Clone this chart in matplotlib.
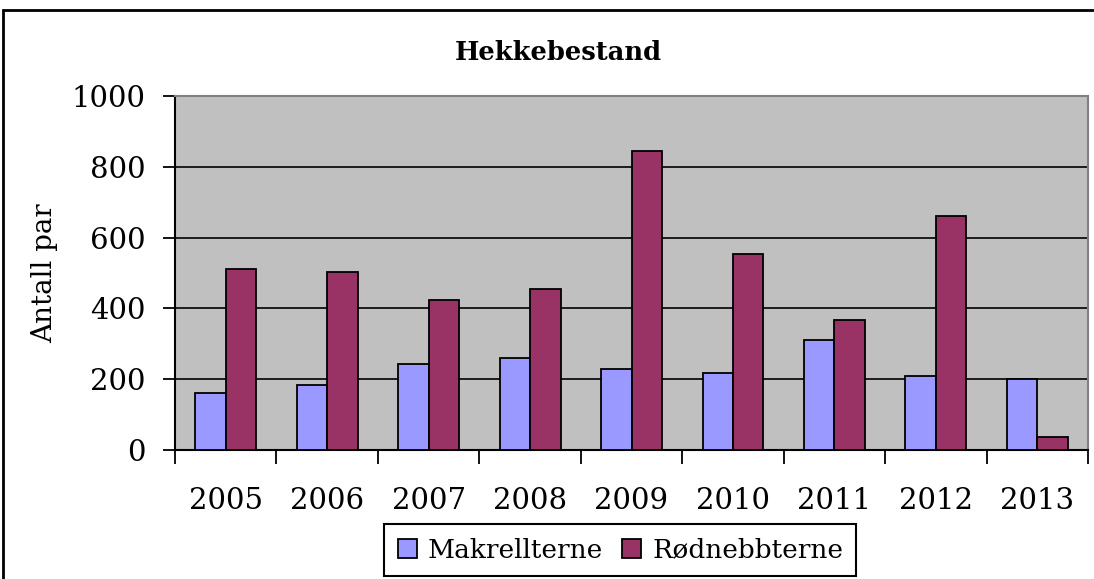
import matplotlib
matplotlib.use("Agg")
import matplotlib.pyplot as plt
import numpy as np
from matplotlib.patches import Rectangle

years = ["2005", "2006", "2007", "2008", "2009", "2010", "2011", "2012", "2013"]
makrellterne = [162, 185, 242, 259, 230, 218, 310, 208, 202]
rodnebbterne = [512, 502, 423, 456, 846, 553, 366, 660, 38]

plt.rcParams['font.family'] = ['DejaVu Serif']

fig = plt.figure(figsize=(10.94, 5.79), dpi=100)
ax = fig.add_axes([0.160, 0.2228, 0.8345, 0.6112])

x = np.arange(len(years))
w = 0.3
ax.bar(x - w / 2, makrellterne, w, color="#9999FF", edgecolor="black", linewidth=1.3,
       label="Makrellterne", zorder=3)
ax.bar(x + w / 2, rodnebbterne, w, color="#993366", edgecolor="black", linewidth=1.3,
       label="Rødnebbterne", zorder=3)

ax.set_facecolor("#C0C0C0")
ax.set_xlim(-0.5, len(years) - 0.5)
ax.set_ylim(0, 1000)
ax.set_yticks(range(0, 1001, 200))
ax.yaxis.grid(True, color="black", linewidth=1.2, zorder=1)
ax.set_axisbelow(True)

# category ticks sit between the groups, labels in the middle
ax.set_xticks(np.arange(-0.5, len(years)), minor=False)
ax.set_xticklabels([])
ax.set_xticks(x, minor=True)
ax.set_xticklabels(years, minor=True, fontsize=21)
ax.tick_params(axis="x", which="major", length=10, width=1.3, direction="out")
ax.tick_params(axis="x", which="minor", length=0, pad=27)
ax.tick_params(axis="y", length=9, width=1.3, labelsize=21, pad=12)

for side in ["left", "bottom"]:
    ax.spines[side].set_linewidth(1.5)
    ax.spines[side].set_color("black")
for side in ["top", "right"]:
    ax.spines[side].set_linewidth(1.5)
    ax.spines[side].set_color("#808080")

ax.set_ylabel("Antall par", fontsize=20, labelpad=10)
fig.text(0.510, 0.910, "Hekkebestand", ha="center", va="center",
         fontsize=18.5, fontweight="bold")

leg = fig.legend(loc="center", bbox_to_anchor=(0.567, 0.05), ncol=2, fontsize=19,
                 frameon=True, fancybox=False, edgecolor="black", framealpha=1,
                 handlelength=0.75, handleheight=0.75, handletextpad=0.4,
                 columnspacing=0.7, borderpad=0.5, borderaxespad=0)
leg.get_frame().set_linewidth(1.5)

# outer chart frame
fig.patches.append(Rectangle((3 / 1094, -0.1), 1.2, 1 - 10 / 579 + 0.1,
                             transform=fig.transFigure, fill=False,
                             edgecolor="black", linewidth=2))

fig.savefig("out.png", dpi=100)
